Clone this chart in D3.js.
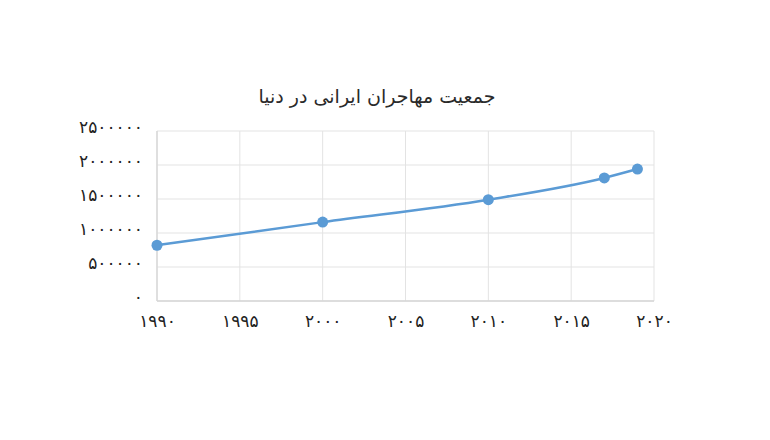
<!DOCTYPE html>
<html><head><meta charset="utf-8">
<script src="https://cdn.jsdelivr.net/npm/d3@7"></script>
<style>body{margin:0;background:#fff}svg{display:block}</style>
</head><body>
<script>
const title = "جمعیت مهاجران ایرانی در دنیا";
const years = [1990, 2000, 2010, 2017, 2019];
const migrants = [820000, 1160000, 1490000, 1810000, 1940000];
const xTicks = [1990, 1995, 2000, 2005, 2010, 2015, 2020];
const xTickLabels = ["۱۹۹۰", "۱۹۹۵", "۲۰۰۰", "۲۰۰۵", "۲۰۱۰", "۲۰۱۵", "۲۰۲۰"];
const yTicks = [0, 500000, 1000000, 1500000, 2000000, 2500000];
const yTickLabels = ["۰", "۵۰۰۰۰۰", "۱۰۰۰۰۰۰", "۱۵۰۰۰۰۰", "۲۰۰۰۰۰۰", "۲۵۰۰۰۰۰"];

const W = 770, H = 440;
const m = {left: 157, right: 116, top: 131, bottom: 139};
const svg = d3.select("body").append("svg").attr("width", W).attr("height", H);
const font = "'DejaVu Sans', sans-serif";

const x = d3.scaleLinear().domain([1990, 2020]).range([m.left, W - m.right]);
const y = d3.scaleLinear().domain([0, 2500000]).range([H - m.bottom, m.top]);

svg.append("text").attr("x", 377).attr("y", 103).attr("text-anchor", "middle")
  .attr("font-family", font).attr("font-size", 19).attr("fill", "#2a2a2a").text(title);

// grid
const g = svg.append("g");
g.selectAll(".vg").data(xTicks).join("line")
  .attr("x1", d => x(d)).attr("x2", d => x(d)).attr("y1", m.top).attr("y2", H - m.bottom)
  .attr("stroke", "#e3e3e3").attr("stroke-width", 1);
g.selectAll(".hg").data(yTicks).join("line")
  .attr("x1", m.left).attr("x2", W - m.right).attr("y1", d => y(d)).attr("y2", d => y(d))
  .attr("stroke", "#e3e3e3").attr("stroke-width", 1);
// axis lines
g.append("line").attr("x1", m.left).attr("x2", m.left).attr("y1", m.top).attr("y2", H - m.bottom)
  .attr("stroke", "#d6d6d6").attr("stroke-width", 1.3);
g.append("line").attr("x1", m.left).attr("x2", W - m.right).attr("y1", H - m.bottom).attr("y2", H - m.bottom)
  .attr("stroke", "#d6d6d6").attr("stroke-width", 1.3);

// axes labels via d3 axes
const xAxis = d3.axisBottom(x).tickValues(xTicks).tickSize(0).tickPadding(14)
  .tickFormat((d, i) => xTickLabels[i]);
const xa = svg.append("g").attr("transform", `translate(0,${H - m.bottom})`).call(xAxis);
xa.select(".domain").remove();
xa.selectAll("text").attr("font-family", font).attr("font-size", 17).attr("fill", "#222");

const yAxis = d3.axisLeft(y).tickValues(yTicks).tickSize(0).tickPadding(14)
  .tickFormat((d, i) => yTickLabels[i]);
const ya = svg.append("g").attr("transform", `translate(${m.left},0)`).call(yAxis);
ya.select(".domain").remove();
ya.selectAll("text").attr("font-family", font).attr("font-size", 17).attr("fill", "#222")
  .attr("letter-spacing", "0.6px").attr("dy", "0.1em");

// line
const data = years.map((yr, i) => ({yr, v: migrants[i]}));
const line = d3.line().x(d => x(d.yr)).y(d => y(d.v)).curve(d3.curveMonotoneX);
svg.append("path").datum(data).attr("d", line).attr("fill", "none")
  .attr("stroke", "#5b9bd5").attr("stroke-width", 2.5);
svg.selectAll(".pt").data(data).join("circle")
  .attr("cx", d => x(d.yr)).attr("cy", d => y(d.v)).attr("r", 5.5)
  .attr("fill", "#5b9bd5");
</script>
</body></html>
